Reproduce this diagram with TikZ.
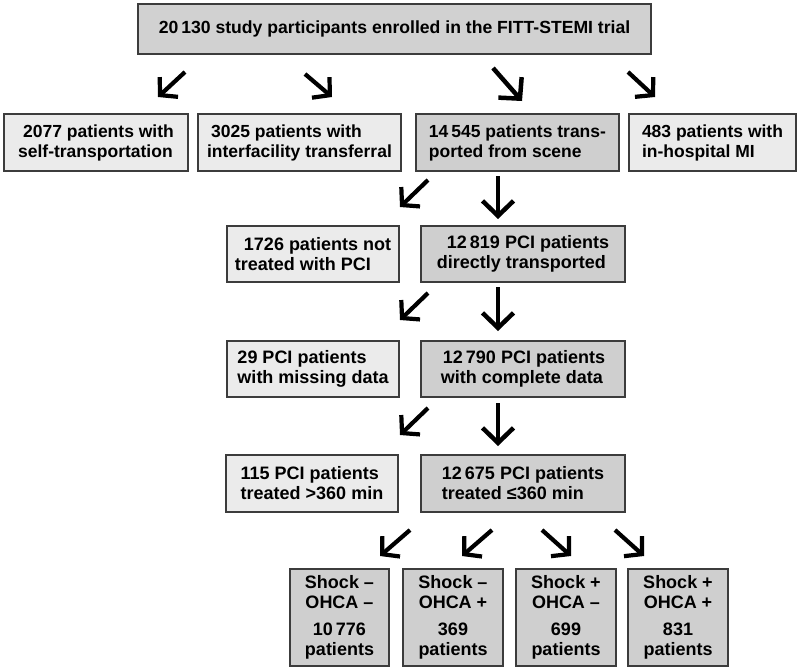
\documentclass[tikz,border=0pt]{standalone}
\usepackage{fontspec}
\setmainfont{Liberation Sans}
\usetikzlibrary{arrows.meta}
\definecolor{boxlight}{HTML}{EBEBEB}
\definecolor{boxdark}{HTML}{CFCFCF}
\definecolor{boxline}{HTML}{3C3C3C}
\tikzset{
  box/.style={draw=boxline, line width=1.8pt, rectangle, inner sep=0pt,
    font=\bfseries\fontsize{18}{20}\selectfont, align=left},
  lightbox/.style={box, fill=boxlight},
  darkbox/.style={box, fill=boxdark},
  rowtwo/.style={font=\bfseries\fontsize{17.5}{20}\selectfont},
  smallarr/.style={line width=4.2pt, -{Straight Barb[length=12pt,width=27pt]}},
  bigarr/.style={line width=4.5pt, -{Straight Barb[length=15pt,width=31pt]}},
}
\begin{document}
\begin{tikzpicture}[x=1pt,y=-1pt]
\useasboundingbox (0,0) rectangle (800,670);

% top
\node[darkbox, fill=boxdark!95!white, minimum width=513pt, minimum height=50pt,
  font=\bfseries\fontsize{17.6}{20}\selectfont] (top) at (394.5,29)
  {20\,130 study participants enrolled in the FITT-STEMI trial};

% row 2
\node[lightbox, rowtwo, minimum width=184pt, minimum height=57pt] (selft) at (96,142.5)
  {\hspace*{5pt}2077 patients with\\self-transportation};
\node[lightbox, rowtwo, minimum width=203pt, minimum height=57pt] (inter) at (299.5,142.5)
  {\hspace*{4pt}3025 patients with\\interfacility transferral};
\node[darkbox, rowtwo, minimum width=203pt, minimum height=57pt] (scene) at (517.5,142.5)
  {14\,545 patients trans-\\ported from scene};
\node[lightbox, rowtwo, minimum width=167pt, minimum height=57pt] (inhosp) at (712.5,142.5)
  {483 patients with\\in-hospital MI};

% row 3
\node[lightbox, minimum width=172pt, minimum height=56pt] (nopci) at (313,254)
  {\hspace*{9pt}1726 patients not\\treated with PCI};
\node[darkbox, minimum width=204pt, minimum height=56pt] (direct) at (523,254)
  {\hspace*{10pt}12\,819 PCI patients\\directly transported};

% row 4
\node[lightbox, minimum width=172pt, minimum height=56pt] (missing) at (313,369)
  {29 PCI patients\\with missing data};
\node[darkbox, minimum width=204pt, minimum height=56pt] (complete) at (523,369)
  {\hspace*{2pt}12\,790 PCI patients\\with complete data};

% row 5
\node[lightbox, minimum width=172pt, minimum height=57pt] (late) at (312,483.5)
  {115 PCI patients\\treated >360 min};
\node[darkbox, minimum width=204pt, minimum height=57pt] (early) at (523,483.5)
  {12\,675 PCI patients\\treated ≤360 min};

% bottom
\node[darkbox, align=center, minimum width=99pt, minimum height=97pt] (sm) at (339.5,617.5)
  {Shock –\\OHCA –\\[7pt]10\,776\\patients};
\node[darkbox, align=center, minimum width=100pt, minimum height=97pt] (smp) at (453,617.5)
  {Shock –\\OHCA +\\[7pt]369\\patients};
\node[darkbox, align=center, minimum width=100pt, minimum height=97pt] (spm) at (566,617.5)
  {Shock +\\OHCA –\\[7pt]699\\patients};
\node[darkbox, align=center, minimum width=100pt, minimum height=97pt] (spp) at (678,617.5)
  {Shock +\\OHCA +\\[7pt]831\\patients};

% arrow coordinates
\coordinate (a1s) at (185,72);  \coordinate (a1e) at (158,97);
\coordinate (a2s) at (305,74);  \coordinate (a2e) at (332,97);
\coordinate (a3s) at (493,68);  \coordinate (a3e) at (522,101);
\coordinate (a4s) at (628,72);  \coordinate (a4e) at (655,97);

\coordinate (b1s) at (428,180); \coordinate (b1e) at (400,207);
\coordinate (b2s) at (498,176); \coordinate (b2e) at (498,219);
\coordinate (c1s) at (428,293); \coordinate (c1e) at (400,320);
\coordinate (c2s) at (498,287); \coordinate (c2e) at (498,331);
\coordinate (d1s) at (428,408); \coordinate (d1e) at (400,435);
\coordinate (d2s) at (498,403); \coordinate (d2e) at (498,446);

\coordinate (e1s) at (410,530); \coordinate (e1e) at (380,556);
\coordinate (e2s) at (492,530); \coordinate (e2e) at (462,556);
\coordinate (e3s) at (542,530); \coordinate (e3e) at (571,556);
\coordinate (e4s) at (615,530); \coordinate (e4e) at (644,556);

\draw[smallarr] (a1s) -- (a1e);
\draw[smallarr] (a2s) -- (a2e);
\draw[bigarr]   (a3s) -- (a3e);
\draw[smallarr] (a4s) -- (a4e);

\draw[smallarr] (b1s) -- (b1e);
\draw[bigarr]   (b2s) -- (b2e);
\draw[smallarr] (c1s) -- (c1e);
\draw[bigarr]   (c2s) -- (c2e);
\draw[smallarr] (d1s) -- (d1e);
\draw[bigarr]   (d2s) -- (d2e);

\draw[smallarr] (e1s) -- (e1e);
\draw[smallarr] (e2s) -- (e2e);
\draw[smallarr] (e3s) -- (e3e);
\draw[smallarr] (e4s) -- (e4e);
\end{tikzpicture}
\end{document}
